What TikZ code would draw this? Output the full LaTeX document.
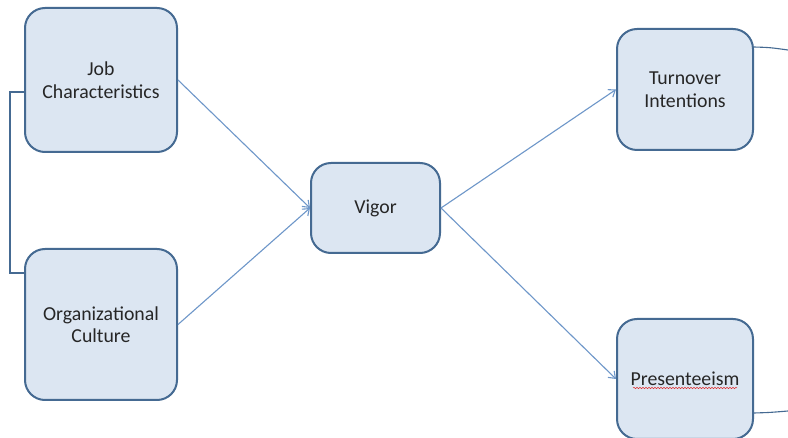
\documentclass[tikz,border=0pt]{standalone}
\usepackage{fontspec}
\setmainfont{Carlito}
\usetikzlibrary{arrows.meta,decorations.pathmorphing}
\definecolor{boxfill}{HTML}{DCE6F2}
\definecolor{boxline}{HTML}{456A92}
\definecolor{arrowc}{HTML}{6E97C9}
\definecolor{wavy}{HTML}{E03030}
\tikzset{
  box/.style={draw=boxline, line width=2pt, fill=boxfill, rounded corners=20pt,
    align=center, font=\fontsize{19.8}{22.5}\selectfont, text=black!85},
  link/.style={draw=arrowc, line width=1.1pt, -{Straight Barb[length=6pt,width=9pt]}},
  bracket/.style={draw=boxline, line width=1.1pt},
}
\begin{document}
\begin{tikzpicture}[x=1pt,y=-1pt]
\useasboundingbox (0,0) rectangle (788,438);
\fill[white] (0,0) rectangle (788,438);
\node[box, minimum width=152pt, minimum height=144pt] (job) at (101,80) {Job\\Characteristics};
\node[box, minimum width=152pt, minimum height=151pt] (org) at (101,324.5) {Organizational\\Culture};
\node[box, minimum width=129pt, minimum height=90pt] (vigor) at (375.5,208) {Vigor};
\node[box, minimum width=136pt, minimum height=121pt] (turn) at (685,89.5) {Turnover\\Intentions};
\node[box, minimum width=136pt, minimum height=120pt] (pres) at (685,379) {Presenteeism};
\draw[decorate, decoration={snake, amplitude=0.7pt, segment length=3pt}, draw=wavy, line width=0.5pt]
  ([yshift=-9pt]pres.center) ++(-52,0) -- ++(104,0);
\coordinate (tr) at (788,50);
\coordinate (pr) at (788,411);
\draw[link] (job.east) -- (vigor.west);
\draw[link] (org.east) -- (vigor.west);
\draw[link] (vigor.east) -- (turn.west);
\draw[link] (vigor.east) -- (pres.west);
\draw[bracket] ([yshift=-12pt]job.west) -- ++(-14,0) |- ([yshift=51.5pt]org.west);
\draw[bracket] (turn.east |- 0,47) .. controls (770,47.5) .. (tr);
\draw[bracket] (pres.east |- 0,413) .. controls (770,412.5) .. (pr);
\end{tikzpicture}
\end{document}
